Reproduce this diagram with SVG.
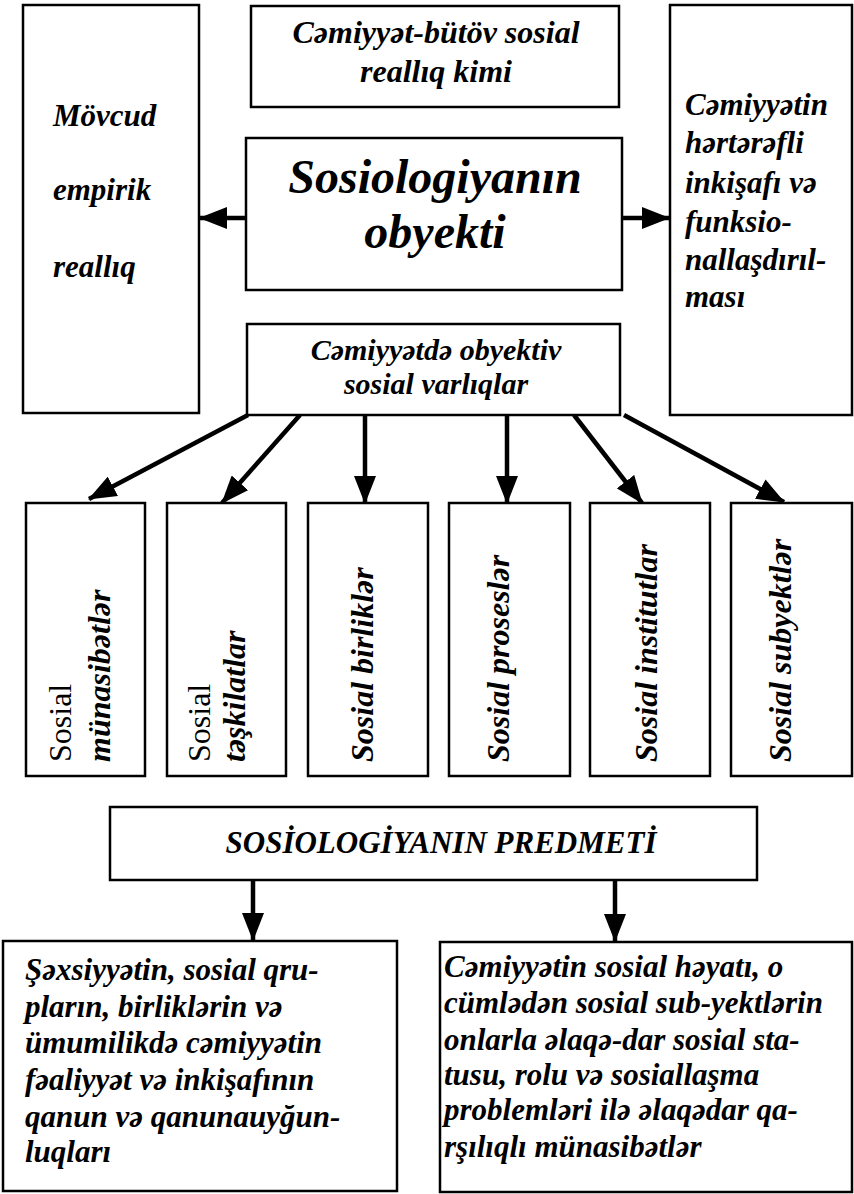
<svg xmlns="http://www.w3.org/2000/svg" width="854" height="1194" viewBox="0 0 854 1194">
<style>
.box{fill:#fff;stroke:#000;stroke-width:2.5}
.bi{font-family:"Liberation Serif","DejaVu Serif",serif;font-weight:bold;font-style:italic;fill:#000}
.rg{font-family:"Liberation Serif","DejaVu Serif",serif;fill:#000}
.c{text-anchor:middle}
.arr{stroke:#000;stroke-width:4.5;fill:none;marker-end:url(#ah)}
</style>
<defs>
<marker id="ah" markerUnits="userSpaceOnUse" markerWidth="28" markerHeight="22" viewBox="0 0 28 22" refX="27" refY="11" orient="auto">
<path d="M0,0 L28,11 L0,22 z" fill="#000"/>
</marker>
</defs>
<rect width="854" height="1194" fill="#fff"/>

<g id="connectors">
<line class="arr" x1="246" y1="218" x2="200" y2="218"/>
<line class="arr" x1="622" y1="218" x2="669" y2="218"/>
<line class="arr" x1="248" y1="415" x2="89" y2="499"/>
<line class="arr" x1="300" y1="415" x2="222" y2="503"/>
<line class="arr" x1="365" y1="415" x2="365" y2="503"/>
<line class="arr" x1="507" y1="415" x2="507" y2="503"/>
<line class="arr" x1="574" y1="415" x2="642" y2="503"/>
<line class="arr" x1="624" y1="415" x2="784" y2="502"/>
<line class="arr" x1="253" y1="880" x2="253" y2="940"/>
<line class="arr" x1="615" y1="880" x2="615" y2="941"/>
</g>

<g id="left-box">
<rect class="box" x="23" y="5" width="176" height="408"/>
<text class="bi" font-size="31" x="53" y="126">Mövcud</text>
<text class="bi" font-size="31" x="53" y="200">empirik</text>
<text class="bi" font-size="31" x="53" y="277">reallıq</text>
</g>

<g id="top-box">
<rect class="box" x="251" y="6" width="368" height="101"/>
<text class="bi c" font-size="32" x="436" y="43">Cəmiyyət-bütöv sosial</text>
<text class="bi c" font-size="32" x="436" y="82">reallıq kimi</text>
</g>

<g id="center-box">
<rect class="box" x="246" y="138" width="376" height="152"/>
<text class="bi c" font-size="48" x="435" y="193">Sosiologiyanın</text>
<text class="bi c" font-size="48" x="435" y="248">obyekti</text>
</g>

<g id="right-box">
<rect class="box" x="670" y="5" width="182" height="410"/>
<text class="bi" font-size="31" x="685" y="115">Cəmiyyətin</text>
<text class="bi" font-size="31" x="685" y="153">hərtərəfli</text>
<text class="bi" font-size="31" x="685" y="193">inkişafı və</text>
<text class="bi" font-size="31" x="685" y="232">funksio-</text>
<text class="bi" font-size="31" x="685" y="270">nallaşdırıl-</text>
<text class="bi" font-size="31" x="685" y="307">ması</text>
</g>

<g id="varliqlar-box">
<rect class="box" x="247" y="324" width="373" height="91"/>
<text class="bi c" font-size="30" x="436" y="360">Cəmiyyətdə obyektiv</text>
<text class="bi c" font-size="30" x="436" y="394">sosial varlıqlar</text>
</g>

<g id="v1">
<rect class="box" x="26" y="503" width="119" height="273"/>
<text class="rg" font-size="32" transform="translate(71,762) rotate(-90)">Sosial</text>
<text class="bi" font-size="32" transform="translate(110,762) rotate(-90)">münasibətlər</text>
</g>
<g id="v2">
<rect class="box" x="167" y="503" width="119" height="273"/>
<text class="rg" font-size="32" transform="translate(210,762) rotate(-90)">Sosial</text>
<text class="bi" font-size="32" transform="translate(245,762) rotate(-90)">təşkilatlar</text>
</g>
<g id="v3">
<rect class="box" x="308" y="503" width="120" height="273"/>
<text class="bi" font-size="32" transform="translate(373,762) rotate(-90)">Sosial birliklər</text>
</g>
<g id="v4">
<rect class="box" x="449" y="503" width="121" height="273"/>
<text class="bi" font-size="32" transform="translate(509,762) rotate(-90)">Sosial proseslər</text>
</g>
<g id="v5">
<rect class="box" x="590" y="503" width="120" height="273"/>
<text class="bi" font-size="32" transform="translate(657,762) rotate(-90)">Sosial institutlar</text>
</g>
<g id="v6">
<rect class="box" x="731" y="503" width="121" height="273"/>
<text class="bi" font-size="32" transform="translate(791,762) rotate(-90)">Sosial subyektlər</text>
</g>

<g id="predmet-box">
<rect class="box" x="110" y="807" width="647" height="73"/>
<text class="bi c" font-size="31" x="441" y="853">SOSİOLOGİYANIN PREDMETİ</text>
</g>

<g id="bottom-left">
<rect class="box" x="3" y="941" width="394" height="250"/>
<text class="bi" font-size="31" x="25" y="980">Şəxsiyyətin, sosial qru-</text>
<text class="bi" font-size="31" x="25" y="1017">pların, birliklərin və</text>
<text class="bi" font-size="31" x="25" y="1053">ümumilikdə cəmiyyətin</text>
<text class="bi" font-size="31" x="25" y="1090">fəaliyyət və inkişafının</text>
<text class="bi" font-size="31" x="25" y="1127">qanun və qanunauyğun-</text>
<text class="bi" font-size="31" x="25" y="1162">luqları</text>
</g>

<g id="bottom-right">
<rect class="box" x="440" y="942" width="412" height="250"/>
<text class="bi" font-size="31" x="444" y="977">Cəmiyyətin sosial həyatı, o</text>
<text class="bi" font-size="31" x="444" y="1013">cümlədən sosial sub-yektlərin</text>
<text class="bi" font-size="31" x="444" y="1050">onlarla əlaqə-dar sosial sta-</text>
<text class="bi" font-size="31" x="444" y="1085">tusu, rolu və sosiallaşma</text>
<text class="bi" font-size="31" x="444" y="1120">problemləri ilə əlaqədar qa-</text>
<text class="bi" font-size="31" x="444" y="1157">rşılıqlı münasibətlər</text>
</g>
</svg>
